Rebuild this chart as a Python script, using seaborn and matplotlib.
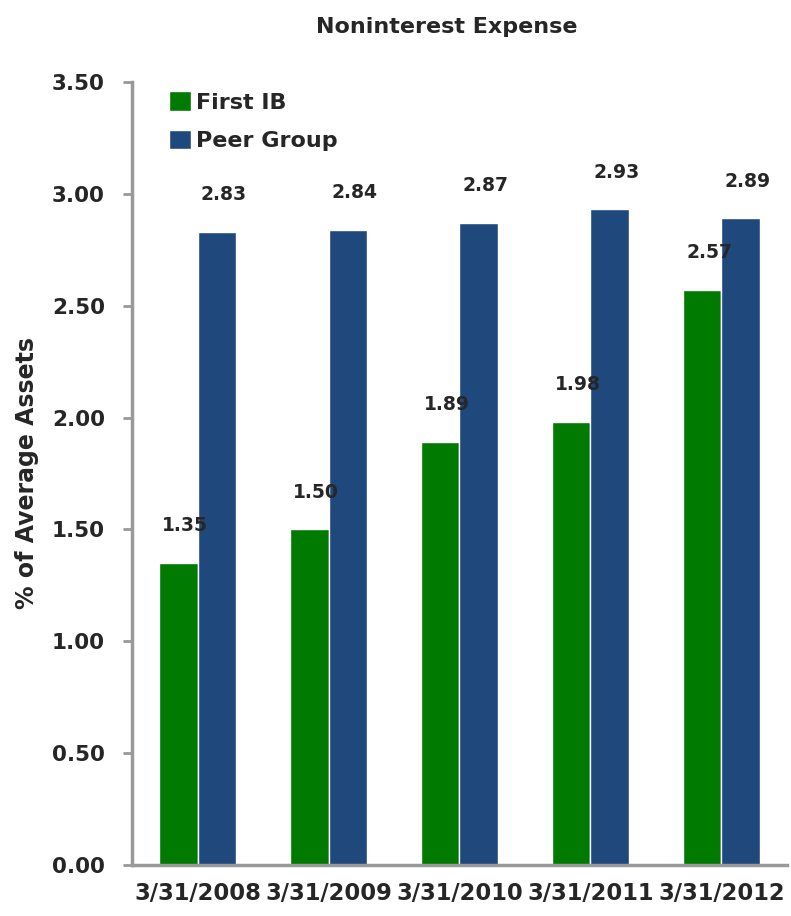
import numpy as np
import pandas as pd
import matplotlib
matplotlib.use("Agg")
import matplotlib.pyplot as plt
import seaborn as sns

dates = ["3/31/2008", "3/31/2009", "3/31/2010", "3/31/2011", "3/31/2012"]
first_ib = [1.35, 1.50, 1.89, 1.98, 2.57]
peer_group = [2.83, 2.84, 2.87, 2.93, 2.89]
series_names = ["First IB", "Peer Group"]
colors = ["#007A00", "#1F497D"]

df = pd.DataFrame({
    "date": dates * 2,
    "value": first_ib + peer_group,
    "series": [series_names[0]] * 5 + [series_names[1]] * 5,
})

sns.set_style("white")
plt.rcParams["font.family"] = ["DejaVu Sans"]
plt.rcParams["font.weight"] = "bold"

fig = plt.figure(figsize=(7.91, 9.16), dpi=100)
ax = fig.add_axes([0.1669, 0.0557, 0.828, 0.8548])

sns.barplot(data=df, x="date", y="value", hue="series", palette=colors,
            width=0.59, saturation=1, ax=ax)

# value labels, nudged a little right like the original
for cont in ax.containers:
    anns = ax.bar_label(cont, fmt="%.2f", padding=20, fontsize=13.5, fontweight="bold")
    for a in anns:
        a.xyann = (5, 20)

yt = np.arange(0, 3.51, 0.5)
ax.set_ylim(0, 3.5)
ax.set_yticks(yt)
ax.set_yticklabels([f"{v:.2f}" for v in yt], fontsize=15.5, fontweight="bold")
ax.set_xlim(-0.5, 4.5)
ax.set_xticks(range(5))
ax.set_xticklabels(dates, fontsize=16.3, fontweight="bold")
ax.set_xticks(np.arange(-0.5, 4.6, 1), minor=True)
ax.tick_params(axis="x", which="major", length=0, pad=12)
ax.tick_params(axis="x", which="minor", length=7, width=2, color="#999999", direction="out")
ax.tick_params(axis="y", length=6.5, width=2, color="#999999", direction="out",
               left=True, pad=13)

ax.set_xlabel("")
ax.set_ylabel("% of Average Assets", fontsize=17, fontweight="bold", labelpad=9)
ax.set_title("Noninterest Expense", fontsize=16, fontweight="bold", pad=35, x=0.48)

for side in ["top", "right"]:
    ax.spines[side].set_visible(False)
for side in ["left", "bottom"]:
    ax.spines[side].set_color("#999999")
    ax.spines[side].set_linewidth(2.5)

leg = ax.legend(loc="upper left", bbox_to_anchor=(0.056, 0.988), frameon=False,
                borderpad=0, borderaxespad=0,
                fontsize=16, handlelength=1.0, handleheight=1.0, handletextpad=0.25,
                labelspacing=0.75)
for t in leg.get_texts():
    t.set_fontweight("bold")

fig.savefig("out.png", dpi=100)
